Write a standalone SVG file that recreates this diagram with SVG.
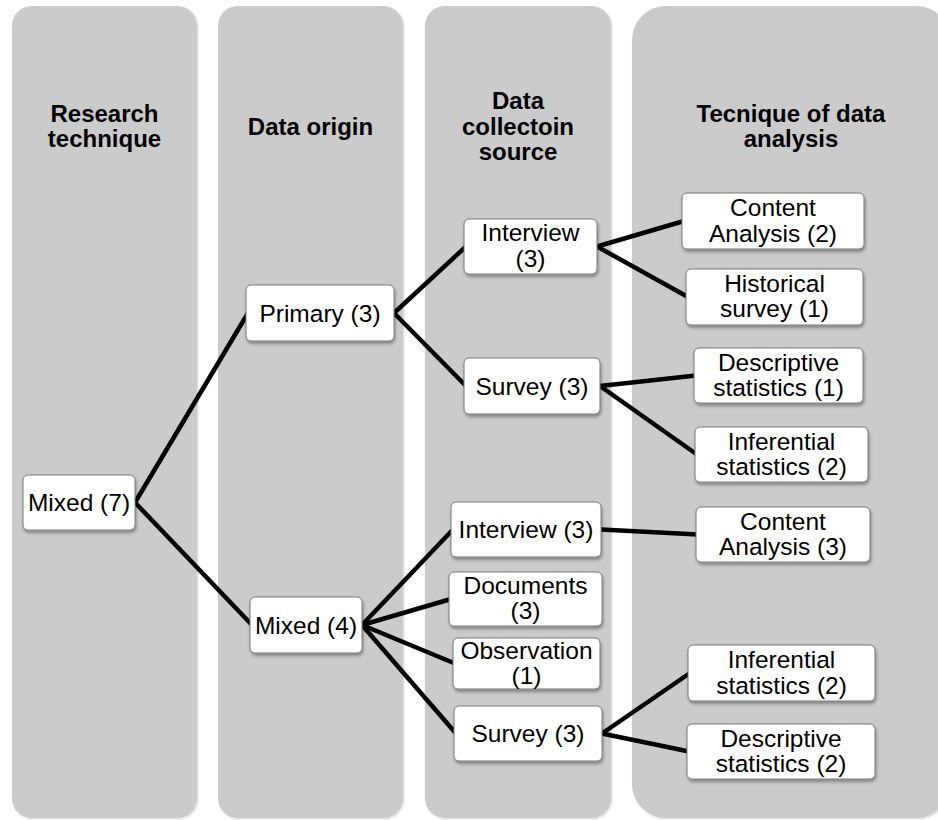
<svg xmlns="http://www.w3.org/2000/svg" width="938" height="820" viewBox="0 0 938 820">
<defs>
<filter id="colsh" x="-5%" y="-2%" width="110%" height="104%">
<feDropShadow dx="1" dy="1" stdDeviation="1.2" flood-color="#000" flood-opacity="0.18"/>
</filter>
<filter id="nodesh" x="-10%" y="-20%" width="120%" height="150%">
<feDropShadow dx="1" dy="2.5" stdDeviation="1.6" flood-color="#000" flood-opacity="0.35"/>
</filter>
</defs>
<style>
.col{fill:#cbcbcb;filter:url(#colsh)}
.hdr{font-family:"Liberation Sans",Arial,sans-serif;font-weight:bold;font-size:24px;fill:#000;text-anchor:middle}
.box{fill:#fff;stroke:#7a7a7a;stroke-width:1;filter:url(#nodesh)}
.lbl{font-family:"Liberation Sans",Arial,sans-serif;font-size:24.5px;fill:#000;text-anchor:middle}
.con{stroke:#000;stroke-width:4.5;fill:none;stroke-linecap:butt}
</style>
<rect width="938" height="820" fill="#fff"/>
<g id="columns">
<g id="col-research">
<rect class="col" x="12" y="6" width="185" height="812" rx="20"/>
<text class="hdr" x="104.5" y="122">Research</text>
<text class="hdr" x="104.5" y="147">technique</text>
</g>
<g id="col-origin">
<rect class="col" x="218" y="6" width="185" height="812" rx="20"/>
<text class="hdr" x="310.5" y="135">Data origin</text>
</g>
<g id="col-source">
<rect class="col" x="425" y="6" width="186" height="812" rx="20"/>
<text class="hdr" x="518" y="109">Data</text>
<text class="hdr" x="518" y="135">collectoin</text>
<text class="hdr" x="518" y="160">source</text>
</g>
<g id="col-analysis">
<rect class="col" x="632" y="6" width="318" height="812" rx="34"/>
<text class="hdr" x="791" y="122">Tecnique of data</text>
<text class="hdr" x="791" y="147">analysis</text>
</g>
</g>
<g id="connectors">
<line class="con" x1="135" y1="502.5" x2="248" y2="313"/>
<line class="con" x1="135" y1="502.5" x2="252" y2="625"/>
<line class="con" x1="394" y1="313" x2="466" y2="246.5"/>
<line class="con" x1="394" y1="313" x2="466" y2="386"/>
<line class="con" x1="362" y1="625" x2="453" y2="529.5"/>
<line class="con" x1="362" y1="625" x2="451" y2="599"/>
<line class="con" x1="362" y1="625" x2="455" y2="663.5"/>
<line class="con" x1="362" y1="625" x2="456" y2="733.5"/>
<line class="con" x1="597" y1="246.5" x2="684" y2="221"/>
<line class="con" x1="597" y1="246.5" x2="688" y2="297"/>
<line class="con" x1="600" y1="386" x2="696" y2="375.5"/>
<line class="con" x1="600" y1="386" x2="697" y2="454.5"/>
<line class="con" x1="601" y1="529.5" x2="698" y2="534.5"/>
<line class="con" x1="602" y1="733.5" x2="690" y2="673"/>
<line class="con" x1="602" y1="733.5" x2="689" y2="751.5"/>
</g>
<g id="n-mixed7">
<rect class="box" x="23" y="475" width="112" height="55" rx="5"/>
<text class="lbl" x="79" y="511">Mixed (7)</text>
</g>
<g id="n-primary">
<rect class="box" x="246" y="285" width="148" height="56" rx="5"/>
<text class="lbl" x="320" y="322">Primary (3)</text>
</g>
<g id="n-mixed4">
<rect class="box" x="250" y="597" width="112" height="56" rx="5"/>
<text class="lbl" x="306" y="634">Mixed (4)</text>
</g>
<g id="n-interview1">
<rect class="box" x="464" y="219" width="133" height="55" rx="5"/>
<text class="lbl" x="530.5" y="241">Interview</text>
<text class="lbl" x="530.5" y="267">(3)</text>
</g>
<g id="n-survey1">
<rect class="box" x="464" y="358" width="136" height="56" rx="5"/>
<text class="lbl" x="532" y="394.5">Survey (3)</text>
</g>
<g id="n-interview2">
<rect class="box" x="451" y="502" width="150" height="55" rx="5"/>
<text class="lbl" x="526" y="538">Interview (3)</text>
</g>
<g id="n-documents">
<rect class="box" x="449" y="572" width="153" height="54" rx="5"/>
<text class="lbl" x="525.5" y="593.5">Documents</text>
<text class="lbl" x="525.5" y="618.5">(3)</text>
</g>
<g id="n-observation">
<rect class="box" x="453" y="638" width="147" height="51" rx="5"/>
<text class="lbl" x="526.5" y="658.5">Observation</text>
<text class="lbl" x="526.5" y="683.5">(1)</text>
</g>
<g id="n-survey2">
<rect class="box" x="454" y="706" width="148" height="55" rx="5"/>
<text class="lbl" x="528" y="742">Survey (3)</text>
</g>
<g id="n-content2">
<rect class="box" x="682" y="193" width="182" height="56" rx="5"/>
<text class="lbl" x="773" y="216">Content</text>
<text class="lbl" x="773" y="241.5">Analysis (2)</text>
</g>
<g id="n-historical">
<rect class="box" x="686" y="269" width="177" height="56" rx="5"/>
<text class="lbl" x="774.5" y="292">Historical</text>
<text class="lbl" x="774.5" y="317">survey (1)</text>
</g>
<g id="n-descriptive1">
<rect class="box" x="694" y="348" width="169" height="55" rx="5"/>
<text class="lbl" x="778.5" y="370.5">Descriptive</text>
<text class="lbl" x="778.5" y="396">statistics (1)</text>
</g>
<g id="n-inferential1">
<rect class="box" x="695" y="427" width="173" height="55" rx="5"/>
<text class="lbl" x="781.5" y="449.5">Inferential</text>
<text class="lbl" x="781.5" y="475">statistics (2)</text>
</g>
<g id="n-content3">
<rect class="box" x="696" y="507" width="174" height="55" rx="5"/>
<text class="lbl" x="783" y="529.5">Content</text>
<text class="lbl" x="783" y="555">Analysis (3)</text>
</g>
<g id="n-inferential2">
<rect class="box" x="688" y="645" width="187" height="56" rx="5"/>
<text class="lbl" x="781.5" y="668">Inferential</text>
<text class="lbl" x="781.5" y="693.5">statistics (2)</text>
</g>
<g id="n-descriptive2">
<rect class="box" x="687" y="724" width="188" height="55" rx="5"/>
<text class="lbl" x="781" y="746.5">Descriptive</text>
<text class="lbl" x="781" y="772">statistics (2)</text>
</g>
</svg>
